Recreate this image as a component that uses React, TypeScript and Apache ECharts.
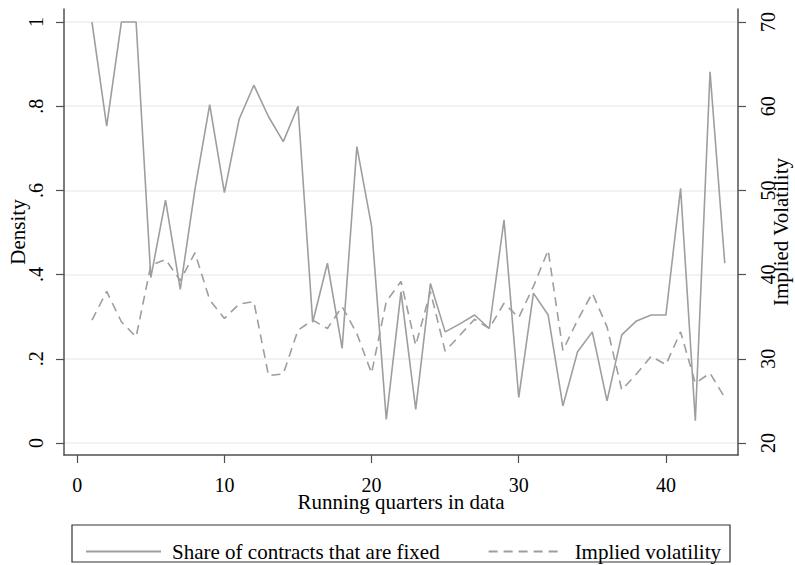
import React, { useEffect, useRef } from "react";
import * as echarts from "echarts";

const quarters = [
  1, 2, 3, 4, 5, 6, 7, 8, 9, 10, 11, 12, 13, 14, 15, 16, 17, 18, 19, 20, 21, 22,
  23, 24, 25, 26, 27, 28, 29, 30, 31, 32, 33, 34, 35, 36, 37, 38, 39, 40, 41, 42,
  43, 44,
];

const shareFixed = [
  1.0, 0.753, 1.0, 1.0, 0.393, 0.577, 0.365, 0.603, 0.804, 0.595, 0.769, 0.85,
  0.775, 0.716, 0.8, 0.287, 0.427, 0.225, 0.704, 0.515, 0.056, 0.359, 0.08,
  0.379, 0.264, 0.283, 0.304, 0.272, 0.53, 0.108, 0.356, 0.304, 0.088, 0.217,
  0.264, 0.1, 0.257, 0.29, 0.304, 0.304, 0.605, 0.053, 0.882, 0.427,
];

const impliedVol = [
  34.6, 38.0, 34.4, 32.6, 41.1, 41.8, 39.3, 42.6, 37.0, 34.8, 36.5, 36.8, 28.0,
  28.2, 33.4, 34.6, 33.6, 36.2, 33.0, 28.3, 36.8, 39.2, 31.6, 38.0, 30.9, 32.8,
  34.7, 33.6, 36.6, 34.9, 38.6, 42.9, 31.0, 34.6, 37.8, 33.8, 26.3, 28.2, 30.3,
  29.3, 33.2, 27.1, 28.3, 25.4,
];

const xTicks = [0, 10, 20, 30, 40];
const densityTicks = [0, 0.2, 0.4, 0.6, 0.8, 1];
const densityTickLabels = ["0", ".2", ".4", ".6", ".8", "1"];
const volTicks = [20, 30, 40, 50, 60, 70];

const seriesNames = ["Share of contracts that are fixed", "Implied volatility"];

export default function App() {
  const ref = useRef<HTMLDivElement>(null);

  useEffect(() => {
    if (!ref.current) return;
    const chart = echarts.init(ref.current, null, { renderer: "svg" });
    const font = "'Liberation Serif', 'DejaVu Serif', serif";
    const axisColor = "#505050";
    const lineColor = "#9e9e9e";
    const gridColor = "#e8eff1";
    const titleSize = 21;
    const tickSize = 20;

    const option: any = {
      animation: false,
      backgroundColor: "#ffffff",
      textStyle: { fontFamily: font, color: "#000" },
      grid: {
        left: 64,
        right: 57,
        top: 9,
        bottom: 110,
        outerBoundsMode: "none",
        containLabel: false,
      },
      xAxis: {
        type: "value",
        min: -0.9,
        max: 44.9,
        name: "Running quarters in data",
        nameLocation: "middle",
        nameGap: 36,
        nameMoveOverlap: false,
        nameTextStyle: { fontSize: titleSize, fontFamily: font, color: "#000" },
        axisLine: { show: true, onZero: false, lineStyle: { color: axisColor, width: 1.5 } },
        axisTick: {
          show: true,
          length: 8,
          customValues: xTicks,
          lineStyle: { color: axisColor, width: 1.2 },
        },
        axisLabel: {
          customValues: xTicks,
          margin: 20,
          fontSize: tickSize,
          color: "#000",
          fontFamily: font,
        },
        splitLine: { show: false },
      },
      yAxis: [
        {
          type: "value",
          position: "left",
          min: -0.0285,
          max: 1.031,
          name: "Density",
          nameLocation: "middle",
          nameRotate: 90,
          nameGap: 36,
          nameMoveOverlap: false,
          nameTextStyle: { fontSize: titleSize, fontFamily: font, color: "#000" },
          axisLine: { show: true, onZero: false, lineStyle: { color: axisColor, width: 1.5 } },
          axisTick: {
            show: true,
            length: 8,
            customValues: densityTicks,
            lineStyle: { color: axisColor, width: 1.2 },
          },
          axisLabel: {
            customValues: densityTicks,
            rotate: 90,
            margin: 18,
            fontSize: tickSize,
            color: "#000",
            fontFamily: font,
            formatter: (v: number) => densityTickLabels[Math.round(v * 5)] ?? String(v),
          },
          splitLine: { show: true, lineStyle: { color: gridColor, width: 1.5 } },
        },
        {
          type: "value",
          position: "right",
          min: 18.575,
          max: 71.55,
          name: "Implied Volatility",
          nameLocation: "middle",
          nameRotate: 90,
          nameGap: 32,
          nameMoveOverlap: false,
          nameTextStyle: { fontSize: titleSize, fontFamily: font, color: "#000" },
          axisLine: { show: true, onZero: false, lineStyle: { color: axisColor, width: 1.5 } },
          axisTick: {
            show: true,
            length: 8,
            customValues: volTicks,
            lineStyle: { color: axisColor, width: 1.2 },
          },
          axisLabel: {
            customValues: volTicks,
            rotate: 90,
            margin: 20,
            fontSize: tickSize,
            color: "#000",
            fontFamily: font,
          },
          splitLine: { show: false },
        },
      ],
      legend: {
        left: 80,
        top: 536,
        itemWidth: 75,
        itemHeight: 14,
        itemGap: 48,
        itemStyle: { opacity: 0 },
        textStyle: { fontSize: titleSize, color: "#000", fontFamily: font, padding: [0, 0, 0, 6] },
        data: seriesNames,
      },
      graphic: [
        {
          type: "rect",
          silent: true,
          shape: { x: 72, y: 525, width: 658, height: 37 },
          style: { fill: "none", stroke: "#333", lineWidth: 1.2 },
        },
      ],
      series: [
        {
          name: seriesNames[0],
          type: "line",
          yAxisIndex: 0,
          symbol: "none",
          data: quarters.map((q, i) => [q, shareFixed[i]]),
          lineStyle: { color: lineColor, width: 1.6 },
          itemStyle: { color: lineColor },
        },
        {
          name: seriesNames[1],
          type: "line",
          yAxisIndex: 1,
          symbol: "none",
          data: quarters.map((q, i) => [q, impliedVol[i]]),
          lineStyle: { color: lineColor, width: 1.6, type: [9, 6] },
          itemStyle: { color: lineColor },
        },
      ],
    };

    chart.setOption(option);
    return () => chart.dispose();
  }, []);

  return (
    <div
      ref={ref}
      style={{ position: "absolute", left: 0, top: 0, width: 795, height: 565 }}
    />
  );
}
